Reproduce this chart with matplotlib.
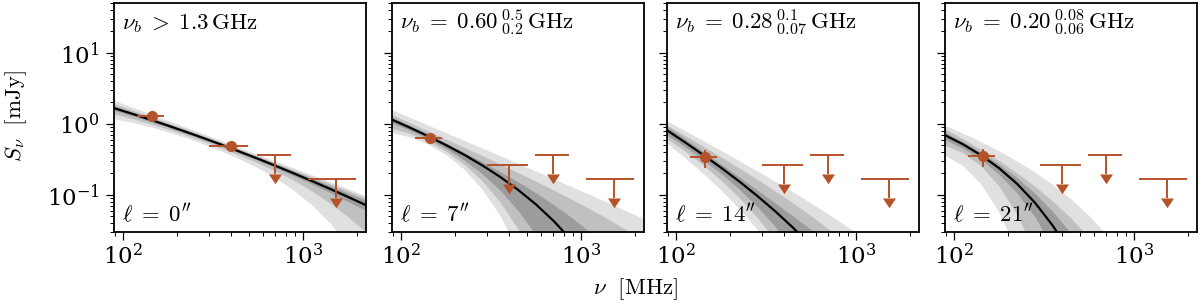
import numpy as np
import matplotlib.pyplot as plt

plt.rcParams['mathtext.fontset'] = 'cm'
plt.rcParams['font.family'] = ['DejaVu Serif']
plt.rcParams['font.size'] = 16.5

# frequency grid of the model curves (MHz)
nu = [89.1, 112.2, 141.3, 177.8, 223.9, 281.8, 354.8, 446.7, 562.3, 707.9,
      891.3, 1122, 1413, 1778, 2239]

# model median and three credible bands, log10(S / mJy), one row per panel
lg_med = [
    [0.220, 0.141, 0.059, -0.026, -0.114, -0.204, -0.297, -0.394, -0.492, -0.594, -0.699, -0.806, -0.916, -1.029, -1.145],
    [0.057, -0.055, -0.174, -0.300, -0.435, -0.583, -0.746, -0.929, -1.135, -1.372, -1.648, -1.972, -2.357, -2.819, -3.0],
    [-0.092, -0.261, -0.436, -0.618, -0.809, -1.012, -1.228, -1.462, -1.718, -2.003, -3.0, -3.0, -3.0, -3.0, -3.0],
    [-0.161, -0.289, -0.442, -0.624, -0.844, -1.111, -1.438, -1.840, -3.0, -3.0, -3.0, -3.0, -3.0, -3.0, -3.0],
]
lg_dark_hi = [
    [0.250, 0.168, 0.083, -0.004, -0.094, -0.184, -0.277, -0.374, -0.470, -0.569, -0.669, -0.770, -0.871, -0.974, -1.080],
    [0.093, -0.026, -0.148, -0.272, -0.400, -0.533, -0.672, -0.818, -0.973, -1.141, -1.323, -1.524, -1.749, -2.003, -2.294],
    [-0.036, -0.212, -0.390, -0.568, -0.747, -0.929, -1.112, -1.298, -1.488, -1.682, -3.0, -3.0, -3.0, -3.0, -3.0],
    [-0.119, -0.253, -0.403, -0.570, -0.761, -0.981, -1.239, -1.542, -1.905, -3.0, -3.0, -3.0, -3.0, -3.0, -3.0],
]
lg_dark_lo = [
    [0.190, 0.114, 0.035, -0.048, -0.134, -0.224, -0.317, -0.415, -0.516, -0.622, -0.733, -0.848, -0.968, -1.092, -1.220],
    [0.009, -0.092, -0.208, -0.345, -0.507, -0.701, -0.935, -1.220, -1.569, -1.998, -3.0, -3.0, -3.0, -3.0, -3.0],
    [-0.155, -0.322, -0.502, -0.700, -0.918, -1.164, -1.443, -1.765, -3.0, -3.0, -3.0, -3.0, -3.0, -3.0, -3.0],
    [-0.222, -0.344, -0.503, -0.709, -0.974, -1.313, -1.746, -3.0, -3.0, -3.0, -3.0, -3.0, -3.0, -3.0, -3.0],
]
lg_mid_hi = [
    [0.280, 0.195, 0.107, 0.017, -0.074, -0.167, -0.262, -0.359, -0.455, -0.552, -0.649, -0.746, -0.844, -0.943, -1.045],
    [0.127, 0.014, -0.100, -0.215, -0.330, -0.447, -0.565, -0.686, -0.808, -0.934, -1.064, -1.199, -1.340, -1.489, -1.648],
    [-0.020, -0.167, -0.315, -0.467, -0.621, -0.780, -0.945, -1.116, -1.295, -1.485, -1.689, -3.0, -3.0, -3.0, -3.0],
    [-0.071, -0.211, -0.360, -0.519, -0.692, -0.881, -1.091, -1.328, -1.598, -1.910, -3.0, -3.0, -3.0, -3.0, -3.0],
]
lg_mid_lo = [
    [0.140, 0.073, 0.001, -0.076, -0.160, -0.249, -0.344, -0.446, -0.552, -0.669, -0.799, -0.946, -1.116, -1.309, -1.525],
    [-0.060, -0.140, -0.247, -0.386, -0.567, -0.800, -1.099, -1.481, -1.967, -3.0, -3.0, -3.0, -3.0, -3.0, -3.0],
    [-0.208, -0.385, -0.579, -0.795, -1.038, -1.314, -1.633, -2.006, -3.0, -3.0, -3.0, -3.0, -3.0, -3.0, -3.0],
    [-0.301, -0.410, -0.594, -0.875, -1.275, -1.828, -3.0, -3.0, -3.0, -3.0, -3.0, -3.0, -3.0, -3.0, -3.0],
]
lg_light_hi = [
    [0.330, 0.236, 0.141, 0.046, -0.049, -0.144, -0.240, -0.337, -0.432, -0.528, -0.624, -0.719, -0.816, -0.914, -1.015],
    [0.196, 0.089, -0.018, -0.126, -0.233, -0.341, -0.449, -0.557, -0.666, -0.775, -0.886, -0.996, -1.108, -1.222, -1.337],
    [0.041, -0.096, -0.235, -0.375, -0.517, -0.661, -0.808, -0.959, -1.114, -1.276, -1.444, -1.622, -1.811, -3.0, -3.0],
    [-0.022, -0.133, -0.252, -0.381, -0.523, -0.680, -0.858, -1.060, -1.293, -1.566, -1.889, -3.0, -3.0, -3.0, -3.0],
]
lg_light_lo = [
    [0.070, 0.021, -0.041, -0.114, -0.196, -0.286, -0.387, -0.499, -0.622, -0.764, -0.939, -1.146, -1.396, -1.709, -2.095],
    [-0.122, -0.186, -0.286, -0.434, -0.639, -0.919, -1.291, -1.781, -3.0, -3.0, -3.0, -3.0, -3.0, -3.0, -3.0],
    [-0.276, -0.478, -0.696, -0.933, -1.193, -1.484, -1.813, -3.0, -3.0, -3.0, -3.0, -3.0, -3.0, -3.0, -3.0],
    [-0.444, -0.593, -0.850, -1.243, -1.807, -3.0, -3.0, -3.0, -3.0, -3.0, -3.0, -3.0, -3.0, -3.0, -3.0],
]

# detections: frequency, flux, frequency range, flux errors (down, up)
det_nu = [[145, 400], [145], [145], [145]]
det_s = [[1.3, 0.49], [0.635], [0.34], [0.35]]
det_nu_lo = [[120, 300], [120], [120], [120]]
det_nu_hi = [[168, 495], [168], [168], [168]]
det_s_dn = [[0.06, 0.03], [0.04], [0.10], [0.10]]
det_s_up = [[0.06, 0.03], [0.04], [0.09], [0.09]]

# upper limits
ul_nu = [[700, 1520], [400, 700, 1520], [400, 700, 1520], [400, 700, 1520]]
ul_s = [[0.36, 0.165], [0.26, 0.36, 0.165], [0.26, 0.36, 0.165], [0.26, 0.36, 0.165]]
ul_nu_lo = [[555, 1070], [302, 555, 1070], [302, 555, 1070], [302, 555, 1070]]
ul_nu_hi = [[860, 1960], [505, 860, 1960], [505, 860, 1960], [505, 860, 1960]]

titles = [r'$\nu_b\;>\;1.3\,\mathrm{GHz}$',
          r'$\nu_b\;=\;0.60\,{}^{0.5}_{0.2}\,\mathrm{GHz}$',
          r'$\nu_b\;=\;0.28\,{}^{0.1}_{0.07}\,\mathrm{GHz}$',
          r'$\nu_b\;=\;0.20\,{}^{0.08}_{0.06}\,\mathrm{GHz}$']
offsets = ['0', '7', '14', '21']

c_pt = '#b4532a'
c_light, c_mid, c_dark = '#e0e0e0', '#c0c0c0', '#9c9c9c'
arrow_head = [(-1, 0), (1, 0), (0, -1.5)]

fig = plt.figure(figsize=(12, 3.03), dpi=100)
lefts = [114, 392, 667, 945]
axes = []
for i in range(4):
    ax = fig.add_axes([lefts[i] / 1200, 0.2343, 252 / 1200, 0.7558],
                      sharey=axes[0] if axes else None)
    axes.append(ax)
    ax.set_xscale('log')
    ax.set_yscale('log')

    ax.fill_between(nu, 10 ** np.array(lg_light_lo[i]), 10 ** np.array(lg_light_hi[i]),
                    color=c_light, lw=0, zorder=1)
    ax.fill_between(nu, 10 ** np.array(lg_mid_lo[i]), 10 ** np.array(lg_mid_hi[i]),
                    color=c_mid, lw=0, zorder=1)
    ax.fill_between(nu, 10 ** np.array(lg_dark_lo[i]), 10 ** np.array(lg_dark_hi[i]),
                    color=c_dark, lw=0, zorder=1)
    ax.plot(nu, 10 ** np.array(lg_med[i]), color='black', lw=1.6, zorder=2)

    # detections
    xerr = [[n - lo for n, lo in zip(det_nu[i], det_nu_lo[i])],
            [hi - n for n, hi in zip(det_nu[i], det_nu_hi[i])]]
    ax.errorbar(det_nu[i], det_s[i], xerr=xerr, yerr=[det_s_dn[i], det_s_up[i]],
                fmt='o', color=c_pt, ms=7, elinewidth=1.4, capsize=0, zorder=4)

    # upper limits
    xerr = [[n - lo for n, lo in zip(ul_nu[i], ul_nu_lo[i])],
            [hi - n for n, hi in zip(ul_nu[i], ul_nu_hi[i])]]
    ax.errorbar(ul_nu[i], ul_s[i], xerr=xerr, fmt='none', ecolor=c_pt,
                elinewidth=1.4, capsize=0, zorder=4)
    base = [s / 1.85 for s in ul_s[i]]
    ax.vlines(ul_nu[i], base, ul_s[i], color=c_pt, lw=1.4, zorder=4)
    ax.plot(ul_nu[i], base, ls='none', marker=arrow_head, ms=14,
            color=c_pt, mec=c_pt, mew=0, zorder=4)

    ax.set_xlim(89.1, 2239)
    ax.set_ylim(0.03, 50)
    ax.text(0.03, 0.884, titles[i], transform=ax.transAxes, va='baseline', ha='left')
    ax.text(0.03, 0.045, r'$\ell\;=\;%s^{\prime\prime}$' % offsets[i],
            transform=ax.transAxes, va='baseline', ha='left')

    for s in ax.spines.values():
        s.set_linewidth(1.3)
    ax.tick_params(which='major', length=5.5, width=0.9, direction='out')
    ax.tick_params(which='minor', length=3, width=0.7, direction='out')
    ax.tick_params(axis='y', pad=5)
    ax.tick_params(axis='x', pad=3)
    if i > 0:
        ax.tick_params(labelleft=False)

fig.text(16 / 1200, 1 - 116 / 303, r'$S_\nu\ \ [\mathrm{mJy}]$', rotation=90,
         ha='center', va='center')
fig.text(635.5 / 1200, 0.045, r'$\nu\ \ [\mathrm{MHz}]$', ha='center', va='center')

plt.savefig('out.png', dpi=100)
